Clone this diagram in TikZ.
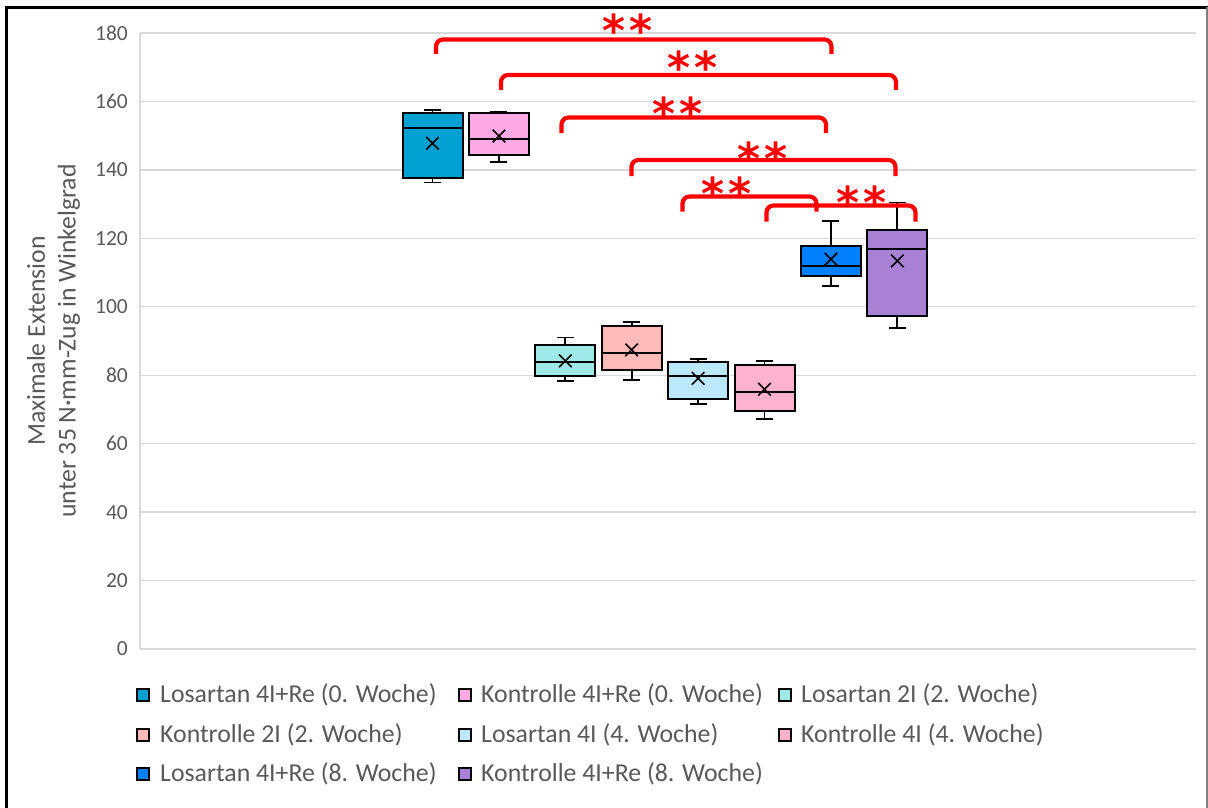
\documentclass[tikz,border=0pt]{standalone}
\usepackage{fontspec}
\setmainfont{Carlito}
\newfontfamily\starfont{DejaVu Sans}
\usetikzlibrary{shapes.misc}
\definecolor{cLosA}{RGB}{0,160,208}
\definecolor{cKonA}{RGB}{255,170,228}
\definecolor{cLosB}{RGB}{158,232,232}
\definecolor{cKonB}{RGB}{255,187,184}
\definecolor{cLosC}{RGB}{187,232,252}
\definecolor{cKonC}{RGB}{255,178,206}
\definecolor{cLosD}{RGB}{0,128,255}
\definecolor{cKonD}{RGB}{168,128,212}
\definecolor{gridgray}{RGB}{217,217,217}
\definecolor{txtgray}{RGB}{89,89,89}
\definecolor{sigred}{RGB}{255,0,0}
% value -> vertical pixel position
\newcommand\Y[1]{649-3.4222*(#1)}
% one box: name, centre x, fill, min, q1, median, q3, max, mean
\newcommand\boxplot[9]{%
  \draw[whisk] (#2,{\Y{#5}}) -- (#2,{\Y{#4}}) (#2-8.5,{\Y{#4}}) -- (#2+8.5,{\Y{#4}});
  \draw[whisk] (#2,{\Y{#7}}) -- (#2,{\Y{#8}}) (#2-8.5,{\Y{#8}}) -- (#2+8.5,{\Y{#8}});
  \draw[boxst,fill=#3] (#2-30,{\Y{#5}}) rectangle (#2+30,{\Y{#7}});
  \draw[boxst] (#2-30,{\Y{#6}}) -- (#2+30,{\Y{#6}});
  \node[meanmk] (#1) at (#2,{\Y{#9}}) {};
}
% significance bracket: name, left x, right x, top y, leg end y, star x, star baseline y
\newcommand\sigbar[7]{%
  \draw[bracket] (#2,#5) -- (#2,#4) -- (#3,#4) -- (#3,#5);
  \node[stars] (#1) at (#6,#7) {*\kern4pt*};
}
\begin{document}
\begin{tikzpicture}[x=1pt,y=-1pt,
  grid/.style={draw=gridgray,line width=1.3pt},
  tick/.style={anchor=east,font=\fontsize{21.5}{24}\selectfont,text=txtgray,inner sep=0pt},
  whisk/.style={draw=black,line width=1.8pt},
  boxst/.style={draw=black,line width=2pt},
  meanmk/.style={cross out,draw=black,line width=1.6pt,minimum size=11pt,inner sep=0pt},
  bracket/.style={draw=sigred,line width=4.2pt,rounded corners=7pt},
  stars/.style={text=sigred,font=\starfont\bfseries\fontsize{44}{46}\selectfont,inner sep=0pt,anchor=base},
  legbox/.style={draw=black,line width=1.5pt,minimum size=12pt,inner sep=0pt},
  legtxt/.style={anchor=west,font=\fontsize{25.8}{28}\selectfont,text=txtgray,inner sep=0pt},
  axtitle/.style={rotate=90,font=\fontsize{25.7}{28}\selectfont,text=txtgray,inner sep=0pt}]
\useasboundingbox (0,0) rectangle (1208,808);
\fill[white] (0,0) rectangle (1208,808);
% frame
\draw[black,line width=3pt] (6.5,808) -- (6.5,7.5) -- (1208,7.5);
\draw[gray,line width=1.2pt] (1207,7.5) -- (1207,808);
% gridlines and tick labels
\foreach \v in {0,20,...,180} {
  \draw[grid] (140,{\Y{\v}}) -- (1196,{\Y{\v}});
  \node[tick] (t\v) at (128,{\Y{\v}}) {\v};
}
\draw[grid] (140,{\Y{0}}) -- (140,{\Y{180}});
% axis title
\node[axtitle] (ax1) at (36,341) {Maximale Extension};
\node[axtitle] (ax2) at (69,341) {unter 35 N·mm-Zug in Winkelgrad};
% boxes
\boxplot{m1}{432.5}{cLosA}{136.3}{137.7}{152.1}{156.7}{157.6}{147.8}
\boxplot{m2}{498.9}{cKonA}{142.2}{144.4}{149.0}{156.7}{157.0}{149.9}
\boxplot{m3}{565.3}{cLosB}{78.4}{79.7}{84.0}{88.8}{91.0}{84.2}
\boxplot{m4}{631.7}{cKonB}{78.6}{81.5}{86.4}{94.4}{95.6}{87.4}
\boxplot{m5}{698.1}{cLosC}{71.5}{73.1}{79.9}{83.8}{84.7}{79.1}
\boxplot{m6}{764.5}{cKonC}{67.1}{69.5}{75.0}{82.9}{84.2}{75.9}
\boxplot{m7}{830.9}{cLosD}{106.1}{109.0}{111.9}{117.9}{125.1}{113.9}
\boxplot{m8}{897.3}{cKonD}{93.9}{97.4}{117.0}{122.4}{130.5}{113.4}
% significance brackets
\sigbar{s1}{436}{831.5}{39.5}{54}{628}{47}
\sigbar{s2}{501}{896}{75}{90}{693}{84}
\sigbar{s3}{561.5}{826}{117.5}{133}{678}{129}
\sigbar{s4}{631.5}{895.5}{160}{176}{763}{174}
\sigbar{s5}{682.5}{816.5}{196.5}{211.5}{727}{209}
\sigbar{s6}{766.5}{915.5}{205.5}{221.5}{862}{218}
% legend
\node[legbox,fill=cLosA] (l1) at (143,695) {};
\node[legtxt] (lt1) at (160,695) {Losartan 4I+Re (0. Woche)};
\node[legbox,fill=cKonA] (l2) at (465,695) {};
\node[legtxt] (lt2) at (481,695) {Kontrolle 4I+Re (0. Woche)};
\node[legbox,fill=cLosB] (l3) at (785,695) {};
\node[legtxt] (lt3) at (801,695) {Losartan 2I (2. Woche)};
\node[legbox,fill=cKonB] (l4) at (143,735) {};
\node[legtxt] (lt4) at (160,735) {Kontrolle 2I (2. Woche)};
\node[legbox,fill=cLosC] (l5) at (465,735) {};
\node[legtxt] (lt5) at (481,735) {Losartan 4I (4. Woche)};
\node[legbox,fill=cKonC] (l6) at (785,735) {};
\node[legtxt] (lt6) at (801,735) {Kontrolle 4I (4. Woche)};
\node[legbox,fill=cLosD] (l7) at (143,774) {};
\node[legtxt] (lt7) at (160,774) {Losartan 4I+Re (8. Woche)};
\node[legbox,fill=cKonD] (l8) at (465,774) {};
\node[legtxt] (lt8) at (481,774) {Kontrolle 4I+Re (8. Woche)};
\end{tikzpicture}
\end{document}
